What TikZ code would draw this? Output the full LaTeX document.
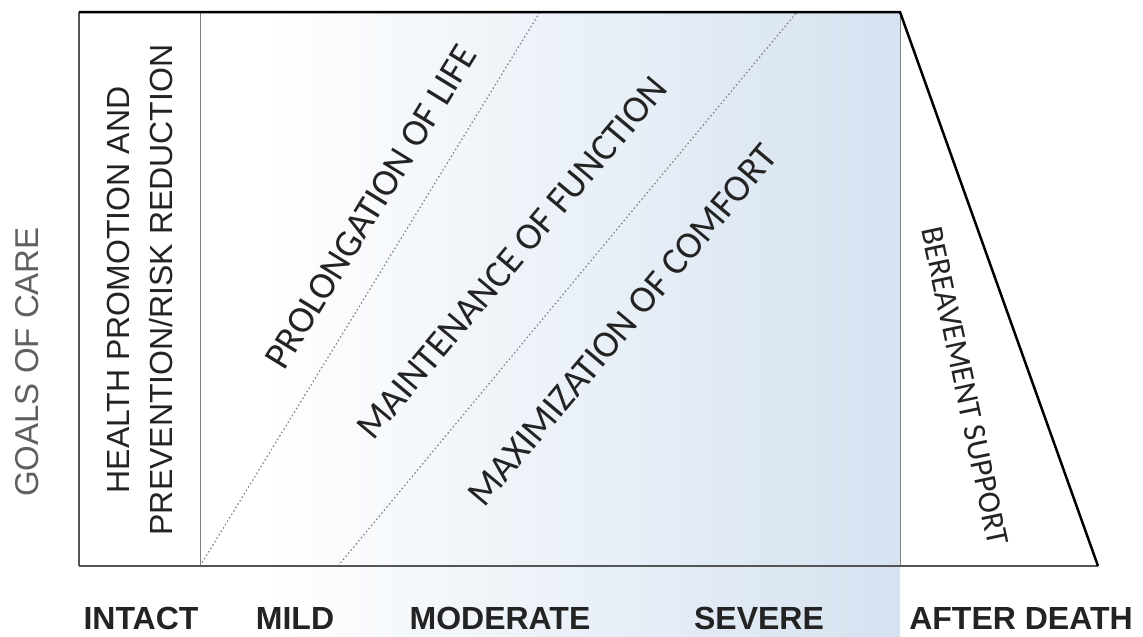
\documentclass[tikz,border=0pt]{standalone}
\usepackage{fontspec}
\setmainfont{Liberation Sans}
\newfontfamily\carlito{Carlito}
\definecolor{careblue}{RGB}{213,226,240}
\definecolor{boxgray}{RGB}{85,85,85}
\definecolor{goalgray}{RGB}{95,95,95}
\definecolor{textdark}{RGB}{35,35,35}

\begin{document}
\begin{tikzpicture}
[every node/.style={inner sep=0pt}]
\useasboundingbox (0pt, 0pt) rectangle (1143pt, -637pt);
\shade [left color=white, right color=careblue] (260.0pt, -12.0pt) rectangle (900.0pt, -637.0pt);
\coordinate (tl) at (79.0pt, -12.0pt);
\coordinate (tr) at (900.0pt, -12.0pt);
\coordinate (bl) at (79.0pt, -566.0pt);
\coordinate (br) at (1098.0pt, -566.0pt);
\coordinate (sr) at (900.0pt, -566.0pt);
\coordinate (it) at (200.0pt, -12.0pt);
\coordinate (ib) at (200.0pt, -566.0pt);
\coordinate (pt) at (540.0pt, -12.0pt);
\coordinate (mt) at (797.0pt, -12.0pt);
\coordinate (mb) at (338.0pt, -566.0pt);
\draw [line width=0.8pt, color=gray] (it) -- (ib);
\draw [line width=0.8pt, color=gray] (tr) -- (sr);
\draw [line width=1.2pt, dash pattern=on 1.5pt off 2.5pt, color=gray] (ib) -- (pt);
\draw [line width=1.2pt, dash pattern=on 1.5pt off 2.5pt, color=gray] (mb) -- (mt);
\draw [line width=1.5pt, color=boxgray] (tl) -- (bl);
\draw [line width=2.5pt, color=boxgray] (bl) -- (br);
\draw [line width=2.5pt, color=black, line join=miter] (tl) -- (tr) -- (br);
\node (goals) [rotate=90, font=\fontsize{33}{36}\selectfont, text=goalgray] at (27.0pt, -362.0pt) {GOALS OF CARE};
\node (health) [rotate=90, align=center, font=\fontsize{32}{43}\selectfont, text=textdark] at (140.0pt, -290.0pt) {HEALTH PROMOTION AND\\PREVENTION/RISK REDUCTION};
\node (life) [rotate=58.5, font=\carlito\fontsize{38}{40}\selectfont, text=textdark] at (371.0pt, -207.0pt) {PROLONGATION OF LIFE};
\node (function) [rotate=50, font=\carlito\fontsize{38}{40}\selectfont, text=textdark] at (512.0pt, -258.0pt) {MAINTENANCE OF FUNCTION};
\node (comfort) [rotate=50, font=\carlito\fontsize{38}{40}\selectfont, text=textdark] at (623.0pt, -325.0pt) {MAXIMIZATION OF COMFORT};
\node (bereave) [rotate=-78, font=\carlito\fontsize{32}{34}\selectfont, text=textdark] at (965.0pt, -386.0pt) {BEREAVEMENT SUPPORT};
\node (intact) [anchor=base, font=\bfseries\fontsize{32}{34}\selectfont, text=textdark] at (141.0pt, -629.0pt) {INTACT};
\node (mild) [anchor=base, font=\bfseries\fontsize{32}{34}\selectfont, text=textdark] at (295.0pt, -629.0pt) {MILD};
\node (moderate) [anchor=base, font=\bfseries\fontsize{32}{34}\selectfont, text=textdark] at (500.0pt, -629.0pt) {MODERATE};
\node (severe) [anchor=base, font=\bfseries\fontsize{32}{34}\selectfont, text=textdark] at (759.0pt, -629.0pt) {SEVERE};
\node (death) [anchor=base, font=\bfseries\fontsize{32}{34}\selectfont, text=textdark] at (1021.0pt, -629.0pt) {AFTER DEATH};
\end{tikzpicture}
\end{document}
